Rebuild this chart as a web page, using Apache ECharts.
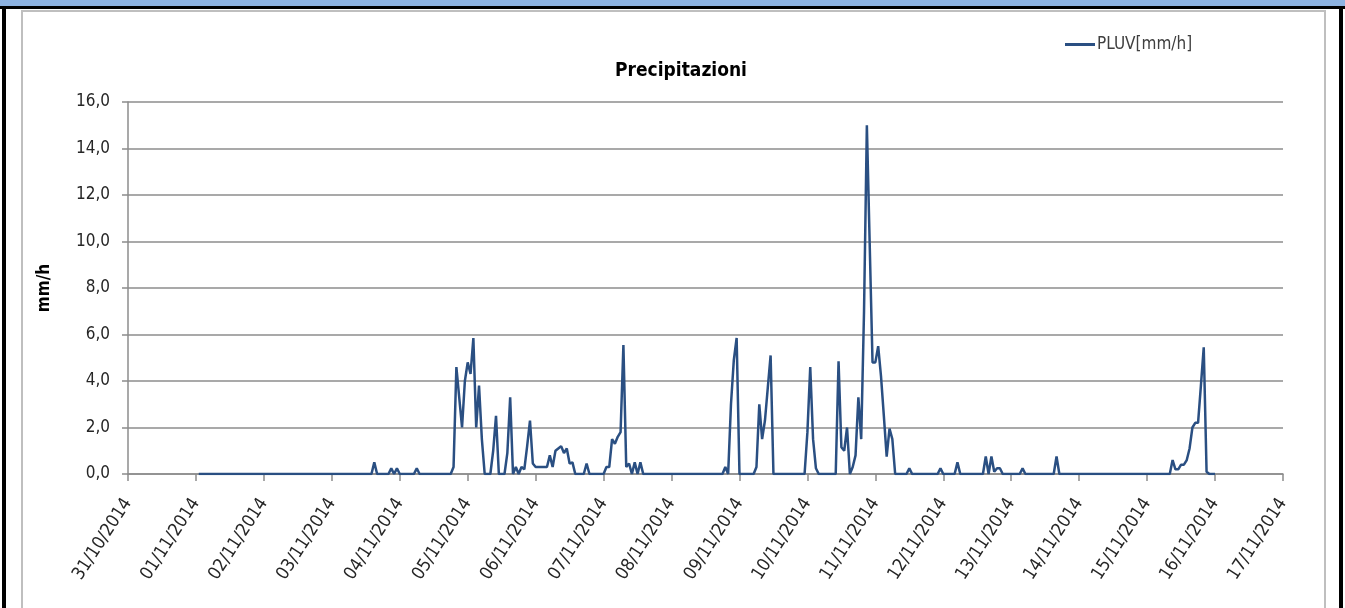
<!DOCTYPE html>
<html>
<head>
<meta charset="utf-8">
<script src="https://cdn.jsdelivr.net/npm/echarts@6/dist/echarts.min.js"></script>
<style>
  html, body { margin: 0; padding: 0; background: #fff; }
  #wrap { position: relative; width: 1345px; height: 608px; overflow: hidden; }
  #chart { position: absolute; left: 0; top: 0; width: 1345px; height: 608px; }
  .deco { position: absolute; pointer-events: none; }
</style>
</head>
<body>
<div id="wrap">
  <div id="chart"></div>
  <!-- header band and frame around the chart -->
  <div class="deco" style="left:0;top:0;width:1345px;height:6px;background:#8db3e2"></div>
  <div class="deco" style="left:0;top:6px;width:1345px;height:3px;background:#000"></div>
  <div class="deco" style="left:2px;top:6px;width:4px;height:602px;background:#000"></div>
  <div class="deco" style="left:1339px;top:6px;width:4px;height:602px;background:#000"></div>
  <div class="deco" style="left:21px;top:10px;width:1305px;height:620px;border:2px solid #bfbfbf;box-sizing:border-box"></div>
</div>
<script>
// tick labels of the x axis, one per day
const dateLabels = [
  "31/10/2014", "01/11/2014", "02/11/2014", "03/11/2014", "04/11/2014",
  "05/11/2014", "06/11/2014", "07/11/2014", "08/11/2014", "09/11/2014",
  "10/11/2014", "11/11/2014", "12/11/2014", "13/11/2014", "14/11/2014",
  "15/11/2014", "16/11/2014", "17/11/2014",
];

// hourly readings run from 01/11 01:00 to 16/11 00:00 (hours counted from 01/11 00:00)
const firstHour = 1;
const lastHour = 360;

// hours with rain and the reading at that hour; every other hour reads 0,0
const rainHours = [
  63, 69, 71, 78,
  91, 92, 93, 94, 95, 96, 97, 98, 99, 100, 101,
  105, 106, 110, 111, 113, 115, 116, 117, 118, 119, 120, 121, 122, 123, 124,
  125, 126, 127, 128, 129, 130, 131, 132, 133, 138,
  145, 146, 147, 148, 149, 150, 151, 152, 153, 155, 157,
  187, 189, 190, 191,
  198, 199, 200, 201, 202, 203,
  216, 217, 218, 219,
  227, 228, 229, 230, 232, 233, 234, 235, 236, 237, 238, 239, 240,
  241, 242, 243, 244, 245, 246,
  252, 263, 269, 279, 281, 282, 283, 284, 292, 304,
  345, 346, 347, 348, 349, 350, 351, 352, 353, 354, 355, 356, 357,
];
const rainValues = [
  0.5, 0.25, 0.25, 0.25,
  0.3, 4.6, 3.3, 2.0, 4.0, 4.8, 4.3, 5.85, 2.0, 3.8, 1.5,
  1.0, 2.5, 0.9, 3.3, 0.3, 0.3, 0.2, 1.2, 2.3, 0.45, 0.3, 0.3, 0.3, 0.3, 0.3,
  0.8, 0.3, 1.0, 1.1, 1.2, 0.9, 1.1, 0.45, 0.5, 0.45,
  0.3, 0.3, 1.5, 1.3, 1.6, 1.8, 5.55, 0.3, 0.45, 0.5, 0.5,
  0.3, 3.0, 4.9, 5.85,
  0.3, 3.0, 1.5, 2.3, 3.7, 5.1,
  1.8, 4.6, 1.5, 0.25,
  4.85, 1.15, 1.0, 2.0, 0.3, 0.8, 3.3, 1.5, 7.0, 15.0, 9.9, 4.8, 4.8,
  5.5, 4.2, 2.5, 0.75, 1.95, 1.5,
  0.25, 0.25, 0.5, 0.75, 0.75, 0.1, 0.25, 0.25, 0.25, 0.75,
  0.6, 0.2, 0.2, 0.4, 0.4, 0.6, 1.1, 2.0, 2.2, 2.2, 3.8, 5.45, 0.1,
];

const seriesName = "PLUV[mm/h]";
const chartTitle = "Precipitazioni";
const yName = "mm/h";

// build [hours since 31/10 00:00, value] pairs
const buildSeriesData = () => {
  const byHour = new Map(rainHours.map((h, i) => [h, rainValues[i]]));
  const out = [];
  for (let h = firstHour; h <= lastHour; h++) {
    out.push([h + 24, byHour.has(h) ? byHour.get(h) : 0]);
  }
  return out;
};

const textFont = "'Liberation Sans Narrow', 'DejaVu Sans Condensed', 'Liberation Sans', sans-serif";
const gridColor = "#8c8c8c";

const myChart = echarts.init(document.getElementById("chart"), null, { renderer: "canvas" });

myChart.setOption({
  animation: false,
  backgroundColor: "#fff",
  title: {
    text: chartTitle,
    left: 676,
    textAlign: "center",
    top: 57,
    textStyle: { fontFamily: textFont, fontSize: 19, fontWeight: "bold", color: "#000" },
  },
  legend: {
    data: [seriesName],
    left: 1060,
    top: 31,
    icon: "rect",
    itemWidth: 30,
    itemHeight: 3,
    itemGap: 4,
    textStyle: { fontFamily: textFont, fontSize: 17, color: "#404040", padding: [0, 0, 0, -3] },
  },
  grid: { left: 128, right: 62, top: 102, bottom: 134, containLabel: false },
  xAxis: {
    type: "value",
    min: 0,
    max: (dateLabels.length - 1) * 24,
    interval: 24,
    splitLine: { show: false },
    axisLine: { lineStyle: { color: gridColor, width: 1.5 } },
    axisTick: { show: true, length: 7, lineStyle: { color: gridColor, width: 1.5 } },
    axisLabel: {
      rotate: 57,
      margin: 26,
      fontFamily: textFont,
      fontSize: 18,
      color: "#262626",
      formatter: (v) => dateLabels[Math.round(v / 24)],
    },
  },
  yAxis: {
    type: "value",
    min: 0,
    max: 16,
    interval: 2,
    name: yName,
    nameLocation: "middle",
    nameGap: 75,
    nameRotate: 90,
    nameTextStyle: { fontFamily: textFont, fontSize: 17, fontWeight: "bold", color: "#000" },
    axisLine: { show: true, lineStyle: { color: gridColor, width: 1.5 } },
    axisTick: { show: true, length: 6, lineStyle: { color: gridColor, width: 1.5 } },
    splitLine: { lineStyle: { color: gridColor, width: 1.5 } },
    axisLabel: {
      margin: 18,
      fontFamily: textFont,
      fontSize: 17,
      color: "#262626",
      formatter: (v) => v.toFixed(1).replace(".", ","),
    },
  },
  series: [
    {
      name: seriesName,
      type: "line",
      data: buildSeriesData(),
      showSymbol: false,
      symbol: "none",
      color: "#2a4f82",
      lineStyle: { color: "#2a4f82", width: 2.5 },
    },
  ],
});
</script>
</body>
</html>
